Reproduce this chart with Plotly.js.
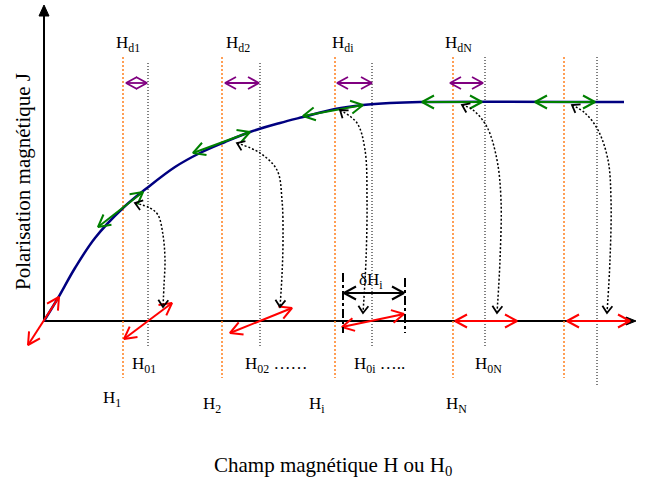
<!DOCTYPE html>
<html><head><meta charset="utf-8">
<script src="https://cdn.plot.ly/plotly-3.0.1.min.js"></script>
<style>html,body{margin:0;padding:0;background:#fff}#chart{width:645px;height:479px}</style>
</head><body><div id="chart"></div>
<script>
// Magnetisation curve J(H)  (units: H to the right of the origin, J above it)
const curveH = [0,14,31,51,79,103,131,156,181,206,236,259,291,319,346,376,580];
const curveJ = [0,23,53,83,113,133,154,168,179,189,198,204,212,216,218,219,219];
// Internal field H_i (orange dotted) and applied field H_0i (black dotted)
const hInternal = [79,178,291,409,520];
const hInternalTop = 264, hInternalBottom = -57;
const hApplied = [104,216,328,441,553];
const hAppliedTop = [258,258,258,264,264];
const hAppliedBottom = [-26,-26,-26,-26,-64];
// Demagnetising field arrows H_di (purple)
const demagFrom = [82,181,293,406];
const demagTo = [103,215,328,439];
const demagJ = 238;
// Green double arrows along the curve
const greenH1 = [54,149,259,378,491], greenJ1 = [94,168,205,219,219];
const greenH2 = [99,206,319,438,551], greenJ2 = [129,189,216,219,219];
// Red double arrows on the field axis
const redH1 = [-16,80,186,298,411,523], redJ1 = [-24,-18,-12,-6,0,0];
const redH2 = [15,128,248,360,473,586], redJ2 = [24,18,13,7,0,0];
// Dotted curved links between the field axis and the curve
const linkH = [
  [91,106,114,119,121,120,119],
  [193,216,233,238,239,238,236],
  [296,313,321,323,322,319],
  [418,429,443,453,457,456,453],
  [528,541,554,564,567,566,563]
];
const linkJ = [
  [118,113,106,86,61,36,14],
  [178,168,151,121,81,46,14],
  [211,198,171,121,61,8],
  [216,211,194,161,121,61,8],
  [216,208,191,161,121,61,8]
];
// δH_i dimension
const deltaH = [299,361], deltaJ = 28;
const deltaTickH = [299,361], deltaTickTop = [48,43], deltaTickBottom = -12;
// Axes
const axisHmax = 592, axisJmax = 316;
// Labels
const topLabels = ['H<sub>d1</sub>','H<sub>d2</sub>','H<sub>di</sub>','H<sub>dN</sub>'];
const topLabelH = [84,194,299,414], topLabelJ = 277;
const h0Labels = ['H<sub>01</sub>','H<sub>02</sub> ……','H<sub>0i</sub> …..','H<sub>0N</sub>'];
const h0LabelH = [86,199,308,429], h0LabelJ = -44;
const hLabels = ['H<sub>1</sub>','H<sub>2</sub>','H<sub>i</sub>','H<sub>N</sub>'];
const hLabelH = [68,168,273,412], hLabelJ = [-78,-84,-84,-84];
const xTitle = 'Champ magnétique H ou H<sub>0</sub>';
const yTitle = 'Polarisation magnétique J';

function chevron(tx, ty, fx, fy, L, W, X, Y) {
  const dx = tx - fx, dy = ty - fy, n = Math.hypot(dx, dy) || 1;
  const ux = dx / n, uy = dy / n, px = -uy, py = ux;
  X.push(tx - L*ux + W*px, tx, tx - L*ux - W*px, null);
  Y.push(ty - L*uy + W*py, ty, ty - L*uy - W*py, null);
}
function doubleArrows(h1, j1, h2, j2, L, W) {
  const X = [], Y = [];
  for (let i = 0; i < h1.length; i++) {
    X.push(h1[i], h2[i], null); Y.push(j1[i], j2[i], null);
    chevron(h1[i], j1[i], h2[i], j2[i], L, W, X, Y);
    chevron(h2[i], j2[i], h1[i], j1[i], L, W, X, Y);
  }
  return {X, Y};
}
const traces = [];
const line = (x, y, color, width, dash, shape) => traces.push({x, y, type:'scatter', mode:'lines', hoverinfo:'skip',
  line:{color, width, dash: dash || 'solid', shape: shape || 'linear'}});

// axes lines
line([0, axisHmax - 6, null, 0, 0], [0, 0, null, 0, axisJmax - 8], '#000', 2);
traces.push({x:[axisHmax-10, axisHmax, axisHmax-10, axisHmax-10], y:[4,0,-4,4], type:'scatter', mode:'lines', fill:'toself', fillcolor:'#000', line:{color:'#000', width:1}, hoverinfo:'skip'});
traces.push({x:[-5,0,5,-5], y:[axisJmax-11, axisJmax, axisJmax-11, axisJmax-11], type:'scatter', mode:'lines', fill:'toself', fillcolor:'#000', line:{color:'#000', width:1}, hoverinfo:'skip'});

// orange dotted
{ const X=[],Y=[]; hInternal.forEach(h=>{X.push(h,h,null);Y.push(hInternalTop,hInternalBottom,null);}); line(X,Y,'#ff7f1e',1.5,'2px,2px'); }
// black dotted
{ const X=[],Y=[]; hApplied.forEach((h,i)=>{X.push(h,h,null);Y.push(hAppliedTop[i],hAppliedBottom[i],null);}); line(X,Y,'#000',1,'1px,2px'); }

// curve
line(curveH, curveJ, '#000080', 2.5, 'solid', 'spline');

// purple
{ const a = doubleArrows(demagFrom, demagFrom.map(()=>demagJ), demagTo, demagTo.map(()=>demagJ), 11, 6); line(a.X, a.Y, '#800080', 1.8); }
// green
{ const a = doubleArrows(greenH1, greenJ1, greenH2, greenJ2, 12, 6.5); line(a.X, a.Y, '#008000', 2); }
// red
{ const a = doubleArrows(redH1, redJ1, redH2, redJ2, 12, 6.5); line(a.X, a.Y, '#ff0000', 2); }

// dotted links
linkH.forEach((hs, i) => {
  const js = linkJ[i];
  line(hs, js, '#000', 1.5, '2px,2px', 'spline');
  const X=[],Y=[]; const n = hs.length;
  chevron(hs[0], js[0], hs[1], js[1], 7, 5, X, Y);
  chevron(hs[n-1], js[n-1], hs[n-2], js[n-2], 7, 5, X, Y);
  line(X, Y, '#000', 1.8);
});

// delta H
{ const a = doubleArrows([deltaH[0]+1],[deltaJ],[deltaH[1]-1],[deltaJ], 12, 6.5); line(a.X, a.Y, '#000', 2); }
{ const X=[],Y=[]; deltaTickH.forEach((h,i)=>{X.push(h,h,null);Y.push(deltaTickTop[i],deltaTickBottom,null);}); line(X,Y,'#000',2,'dashdot'); }

const F = 'Liberation Serif, Times New Roman, serif';
const ann = [];
const txt = (text, x, y, size, xanchor, extra) => ann.push(Object.assign({text, x, y, xref:'x', yref:'y', showarrow:false, xanchor: xanchor || 'center', yanchor:'middle', font:{family:F, size, color:'#000'}}, extra || {}));
topLabels.forEach((t,i)=>txt(t, topLabelH[i], topLabelJ, 17));
h0Labels.forEach((t,i)=>txt(t, h0LabelH[i], h0LabelJ, 17, 'left'));
hLabels.forEach((t,i)=>txt(t, hLabelH[i], hLabelJ[i], 17));
txt('δH<sub>i</sub>', 327, 40, 17);
txt(xTitle, 289, -145, 21);
txt(yTitle, -21, 139, 21, 'center', {textangle:-90});

Plotly.newPlot('chart', traces, {
  width:645, height:479, margin:{l:0,r:0,t:0,b:0}, showlegend:false,
  paper_bgcolor:'#fff', plot_bgcolor:'#fff',
  xaxis:{range:[-44,601], visible:false, fixedrange:true},
  yaxis:{range:[-158,321], visible:false, fixedrange:true},
  annotations: ann
}, {staticPlot:true});
</script></body></html>
